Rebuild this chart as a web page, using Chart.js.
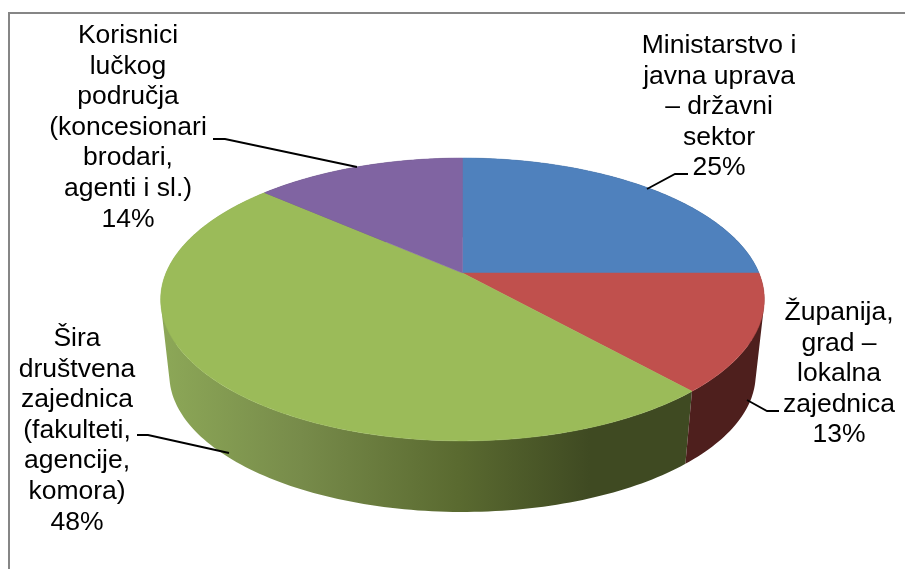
<!doctype html>
<html>
<head>
<meta charset="utf-8">
<title>Struktura dionika</title>
<script src="https://cdn.jsdelivr.net/npm/chart.js"></script>
<style>
  html, body { margin: 0; padding: 0; background: #fff; overflow: hidden; }
  canvas { display: block; }
</style>
</head>
<body>
<canvas id="c" width="905" height="569"></canvas>
<script>
// values (slices 2 and 4 are a bit off their rounded labels)
const categories = [
  ['Ministarstvo i', 'javna uprava', '– državni', 'sektor'],
  ['Županija,', 'grad –', 'lokalna', 'zajednica'],
  ['Šira', 'društvena', 'zajednica', '(fakulteti,', 'agencije,', 'komora)'],
  ['Korisnici', 'lučkog', 'područja', '(koncesionari', 'brodari,', 'agenti i sl.)']
];
const shares = [25, 13.4, 48.1, 13.5];
const topColors = ['#4f81bd', '#c0504d', '#9bbb59', '#8064a2'];
const wallColors = ['#2a4563', '#4e1f1d', '#5c6b30', '#433553'];

// layout of the 3D disc and of the labels
const topDisc = { x: 462.5, y: 273, a: 296.5, b: 136.5, k: 0.187 };
const bottomDisc = { x: 462.5, y: 349, a: 288, b: 132.5, k: 0.187 };
const labelBoxes = [
  { x: 719, y: 53 }, { x: 839, y: 320 }, { x: 77, y: 346 }, { x: 128, y: 43 }
];
const leaders = [
  [[688, 174], [675, 174], [647, 189]],
  [[779, 411], [767, 411], [747, 400]],
  [[137, 435], [148, 435], [229, 453]],
  [[213, 139], [225, 139], [357, 167]]
];
const lineHeight = 30.6;

// tilted circle: same angle the arc element has, pushed through a perspective
function project(disc, angle) {
  const X = Math.cos(angle), Y = -Math.sin(angle);
  const w = 1 + disc.k * Y;
  return [disc.x + disc.a * X / w, disc.y - disc.b * Y / w];
}

function rim(ctx, disc, from, to) {
  const steps = Math.max(2, Math.ceil(Math.abs(to - from) / 0.01));
  for (let i = 0; i <= steps; i++) {
    const p = project(disc, from + (to - from) * i / steps);
    ctx.lineTo(p[0], p[1]);
  }
}

function wallFill(ctx, i) {
  if (i !== 2) return wallColors[i];
  const g = ctx.createLinearGradient(165, 0, 590, 0);
  g.addColorStop(0, '#8ca757');
  g.addColorStop(0.32, '#778b4a');
  g.addColorStop(0.69, '#5a6a30');
  g.addColorStop(1, '#3f4a22');
  return g;
}

// swept in small quads, all in one path, so the outline keeps the straight
// edge at the sides and no seams show between the quads
function drawWall(ctx, arc, fill) {
  const steps = Math.ceil((arc.endAngle - arc.startAngle) / 0.02);
  ctx.beginPath();
  for (let s = 0; s < steps; s++) {
    const a0 = arc.startAngle + (arc.endAngle - arc.startAngle) * s / steps;
    const a1 = arc.startAngle + (arc.endAngle - arc.startAngle) * (s + 1) / steps;
    const q = [project(topDisc, a0), project(topDisc, a1), project(bottomDisc, a1), project(bottomDisc, a0)];
    let area = 0;
    q.forEach((p, j) => {
      const n = q[(j + 1) % 4];
      area += p[0] * n[1] - n[0] * p[1];
    });
    if (area < 0) q.reverse();
    q.forEach((p, j) => j ? ctx.lineTo(p[0], p[1]) : ctx.moveTo(p[0], p[1]));
    ctx.closePath();
  }
  ctx.fillStyle = fill;
  ctx.fill();
}

const pie3d = {
  id: 'pie3d',
  beforeDatasetsDraw(chart) {
    const ctx = chart.ctx;
    const arcs = chart.getDatasetMeta(0).data;
    ctx.save();
    // walls first, back slices before the front ones
    [3, 0, 2, 1].forEach(i => drawWall(ctx, arcs[i], wallFill(ctx, i)));
    arcs.forEach((arc, i) => {
      ctx.beginPath();
      ctx.moveTo(topDisc.x, topDisc.y);
      rim(ctx, topDisc, arc.startAngle, arc.endAngle);
      ctx.closePath();
      ctx.fillStyle = topColors[i];
      ctx.strokeStyle = topColors[i];
      ctx.lineWidth = 0.5;
      ctx.fill();
      ctx.stroke();
    });
    ctx.restore();
    return false; // the flat arcs are replaced by the tilted ones
  },
  afterDraw(chart) {
    const ctx = chart.ctx;
    ctx.save();
    // chart area frame, only left and top are in the crop
    ctx.strokeStyle = '#868686';
    ctx.lineWidth = 2;
    ctx.beginPath();
    ctx.moveTo(9, 569);
    ctx.lineTo(9, 13);
    ctx.lineTo(905, 13);
    ctx.stroke();

    ctx.strokeStyle = '#000';
    ctx.lineWidth = 1.8;
    leaders.forEach(pts => {
      ctx.beginPath();
      pts.forEach((p, j) => j ? ctx.lineTo(p[0], p[1]) : ctx.moveTo(p[0], p[1]));
      ctx.stroke();
    });

    ctx.fillStyle = '#000';
    ctx.font = '26.5px "Liberation Sans", Arial, sans-serif';
    ctx.textAlign = 'center';
    ctx.textBaseline = 'alphabetic';
    categories.forEach((lines, i) => {
      const all = lines.concat(Math.round(shares[i]) + '%');
      all.forEach((t, j) => ctx.fillText(t, labelBoxes[i].x, labelBoxes[i].y + j * lineHeight));
    });
    ctx.restore();
  }
};

new Chart(document.getElementById('c'), {
  type: 'pie',
  data: {
    labels: categories.map(l => l.join(' ')),
    datasets: [{ data: shares, backgroundColor: topColors, borderWidth: 0 }]
  },
  options: {
    responsive: false,
    animation: false,
    plugins: { legend: { display: false }, tooltip: { enabled: false } }
  },
  plugins: [pie3d]
});
</script>
</body>
</html>
